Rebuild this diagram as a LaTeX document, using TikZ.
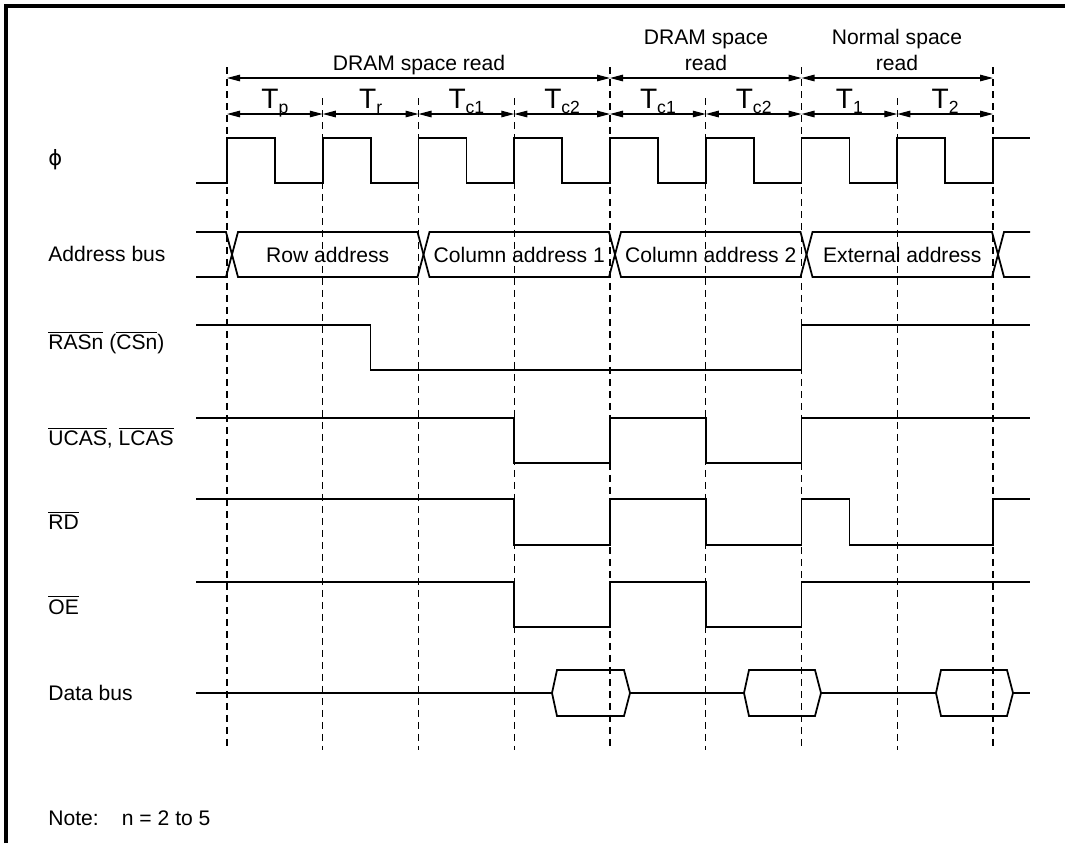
\documentclass[tikz,border=0pt]{standalone}
\usepackage{fontspec}
\setmainfont{Liberation Sans}
\newfontfamily\symfont{DejaVu Sans}
\usetikzlibrary{arrows.meta}
\newcommand{\ovl}[1]{\ensuremath{\overline{\mbox{#1}}}}
\newcommand{\Tcyc}[1]{{\fontsize{16}{18}\selectfont T}\raisebox{-1.1mm}{\fontsize{10}{11}\selectfont #1}}

\begin{document}
\begin{tikzpicture}[x=0.02cm, y=-0.02cm,
    every node/.style={font=\fontsize{12}{14.4}\selectfont, inner sep=0pt},
    sig/.style={line width=1pt, line join=miter},
    grid/.style={line width=0.7pt, dash pattern=on 1.4mm off 1mm},
    span/.style={{Triangle[length=2.6mm,width=1.3mm]}-{Triangle[length=2.6mm,width=1.3mm]}, line width=0.7pt},
    lbl/.style={anchor=west},
    frame/.style={line width=2pt}
]
\useasboundingbox (0,0) rectangle (1065,843);
\draw[frame] (6,843) -- (6,6) -- (1065,6);

\foreach \i in {0,...,8} {
  \coordinate (a\i) at ({227+95.75*\i},78);
  \coordinate (b\i) at ({227+95.75*\i},114);
}
\foreach \i in {0,4,6,8} \draw[grid] (a\i) ++(0,-11) -- ++(0,683);
\foreach \i in {1,2,3,5,7} \draw[grid] (b\i) ++(0,-16) -- ++(0,652);

\draw[span] (a0) -- (a4);
\draw[span] (a4) -- (a6);
\draw[span] (a6) -- (a8);
\foreach \i/\j in {0/1,1/2,2/3,3/4,4/5,5/6,6/7,7/8} \draw[span] (b\i) -- (b\j);

\node[anchor=base] (dram1) at (419,70) {DRAM space read};
\node[anchor=base, align=center] (dram2) at (706,70) {DRAM space\\read};
\node[anchor=base, align=center] (normal) at (897,70) {Normal space\\read};
\foreach \i/\s in {0/p,1/r,2/c1,3/c2,4/c1,5/c2,6/1,7/2}
  \node[anchor=base] (t\i) at ({274.9+95.75*\i},108) {\Tcyc{\s}};

\node[lbl] (phi) at (48,160) {\symfont ϕ};
\node[lbl] (abus) at (48,254) {Address bus};
\node[lbl] (ras) at (48,343) {\ovl{RASn} (\ovl{CSn})};
\node[lbl] (cas) at (48,438) {\ovl{UCAS}, \ovl{LCAS}};
\node[lbl] (rd) at (48,520) {\ovl{RD}};
\node[lbl] (oe) at (48,605) {\ovl{OE}};
\node[lbl] (dbus) at (48,693) {Data bus};
\node[lbl] (note) at (48,818) {Note:\hspace{1.1em}n = 2 to 5};

\draw[sig] (196,183) foreach \i in {0,...,7} { -- ({227+95.75*\i},183) -- ++(0,-45) -- ++(47.875,0) -- ++(0,45) } -- (993,183) -- (993,138) -- (1030,138);

\draw[sig] (196,232) -- (226,232) -- (232,254.5) -- (226,277) -- (196,277);
\foreach \l/\r in {232/423.5,423.5/615,615/806.5,806.5/998}
  \draw[sig] (\l,254.5) -- (\l+6,232) -- (\r-6,232) -- (\r,254.5) -- (\r-6,277) -- (\l+6,277) -- cycle;
\draw[sig] (1030,232) -- (1004,232) -- (998,254.5) -- (1004,277) -- (1030,277);
\node (rowaddr) at (327.75,254.5) {Row address};
\node (coladdr1) at (519.25,254.5) {Column address 1};
\node (coladdr2) at (710.75,254.5) {Column address 2};
\node (extaddr) at (902.25,254.5) {External address};

\draw[sig] (196,325) -- (370.6,325) -- (370.6,370) -- (801.5,370) -- (801.5,325) -- (1030,325);
\draw[sig] (196,418) -- (514.25,418) -- (514.25,463) -- (610,463) -- (610,418) -- (705.75,418) -- (705.75,463) -- (801.5,463) -- (801.5,418) -- (1030,418);
\draw[sig] (196,499) -- (514.25,499) -- (514.25,545) -- (610,545) -- (610,499) -- (705.75,499) -- (705.75,545) -- (801.5,545) -- (801.5,499) -- (849.4,499) -- (849.4,545) -- (993,545) -- (993,499) -- (1030,499);
\draw[sig] (196,582) -- (514.25,582) -- (514.25,627) -- (610,627) -- (610,582) -- (705.75,582) -- (705.75,627) -- (801.5,627) -- (801.5,582) -- (1030,582);

\draw[sig] (196,693) -- (552,693) (630,693) -- (744,693) (821,693) -- (936,693) (1013,693) -- (1030,693);
\foreach \l/\r in {552/630,744/821,936/1013}
  \draw[sig] (\l,693) -- (\l+5,670) -- (\r-6,670) -- (\r,693) -- (\r-6,716) -- (\l+5,716) -- cycle;
\end{tikzpicture}
\end{document}
